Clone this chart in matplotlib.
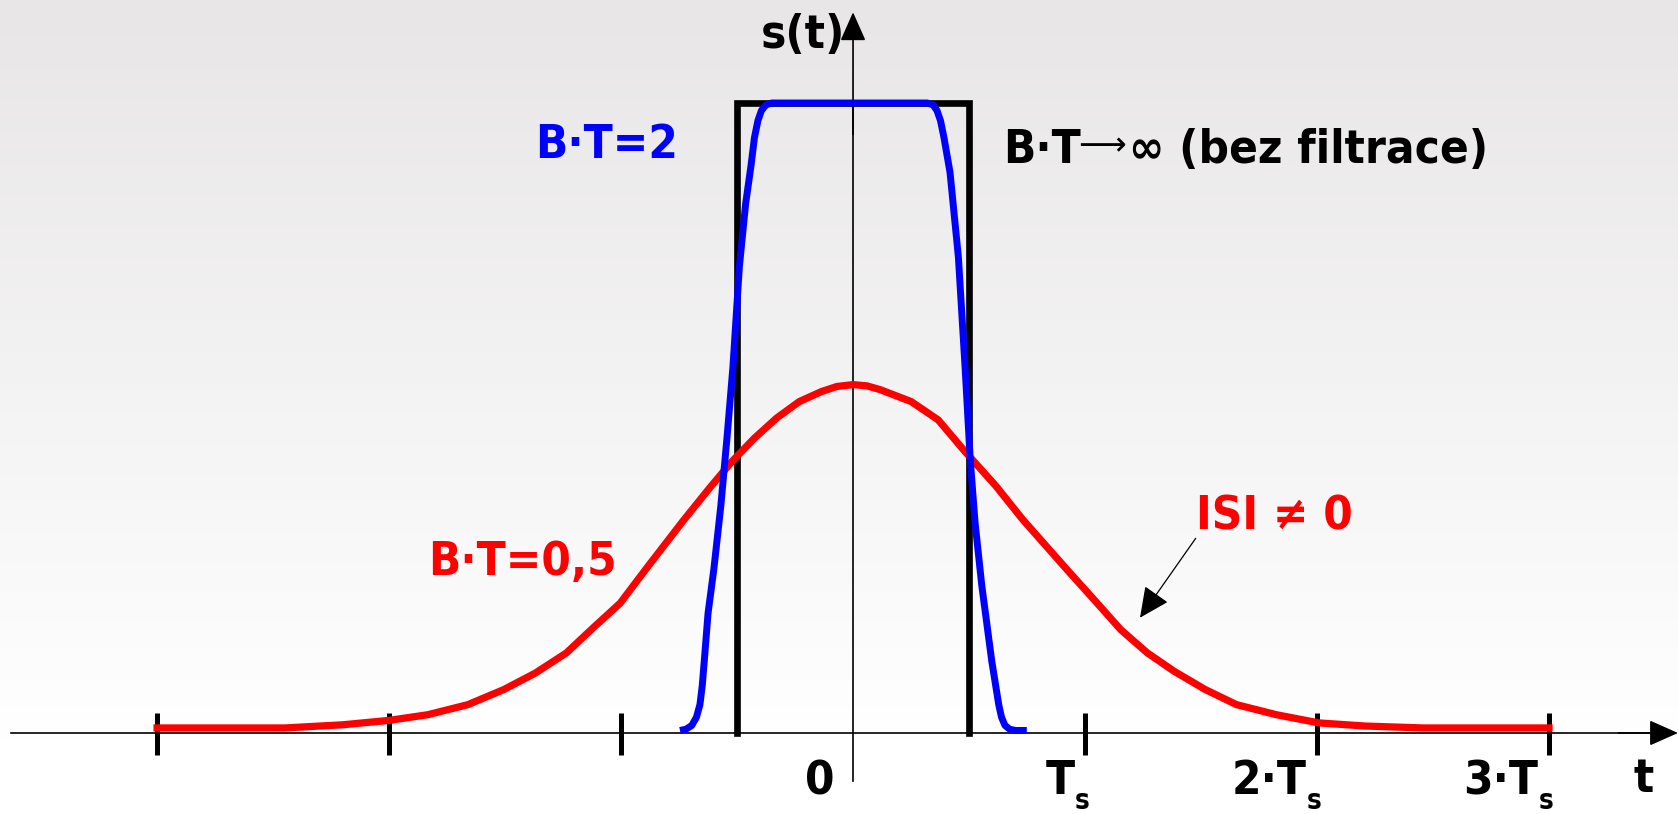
import numpy as np
import matplotlib
matplotlib.use('Agg')
import matplotlib.pyplot as plt

# Data (t in units of T_s, amplitude relative to the rectangle)
rect_t = [-0.5, -0.5, 0.5, 0.5]
rect_s = [0.0, 1.0, 1.0, 0.0]

blue_t = [-0.746, -0.72, -0.695, -0.675, -0.66, -0.65, -0.64, -0.625, -0.60, -0.57, -0.543,
          -0.518, -0.49, -0.463, -0.44, -0.425, -0.41, -0.395, -0.375, -0.35, -0.32,
          0.29, 0.32, 0.345, 0.362, 0.377, 0.392, 0.418, 0.454, 0.483, 0.505, 0.526, 0.555,
          0.598, 0.615, 0.628, 0.64, 0.655, 0.675, 0.70, 0.749]
blue_s = [0.004, 0.006, 0.012, 0.025, 0.045, 0.075, 0.12, 0.19, 0.26, 0.36, 0.47,
          0.58, 0.74, 0.84, 0.90, 0.945, 0.972, 0.988, 0.997, 1.0, 1.0,
          1.0, 1.0, 0.997, 0.988, 0.972, 0.945, 0.89, 0.756, 0.58, 0.435, 0.334, 0.234,
          0.114, 0.075, 0.045, 0.025, 0.012, 0.006, 0.004, 0.004]

red_t = [-3.0, -2.45, -2.2, -2.0, -1.833, -1.66, -1.505, -1.37, -1.236, -1.12, -1.004, -0.889,
         -0.734, -0.618, -0.522, -0.425, -0.329, -0.232, -0.136, -0.07, 0.0, 0.06, 0.117,
         0.251, 0.367, 0.482, 0.616, 0.731, 0.923, 1.038, 1.154, 1.269, 1.384, 1.518, 1.653,
         1.825, 2.008, 2.209, 2.459, 3.0]
red_s = [0.008, 0.008, 0.013, 0.020, 0.029, 0.045, 0.069, 0.095, 0.127, 0.167, 0.206, 0.262,
         0.336, 0.389, 0.431, 0.468, 0.500, 0.526, 0.542, 0.550, 0.553, 0.551, 0.545,
         0.526, 0.497, 0.447, 0.392, 0.339, 0.259, 0.212, 0.164, 0.127, 0.098, 0.069, 0.045,
         0.029, 0.016, 0.011, 0.008, 0.008]

tick_pos = [-3, -2, -1, 1, 2, 3]
label_pos = [1, 2, 3]
label_txt = ['T', '2·T', '3·T']

# Plot
fig = plt.figure(figsize=(16.78, 8.14), dpi=100)
ax = fig.add_axes([0, 0, 1, 1])
x0, x1 = -3.677, 3.556
y0, y1 = -0.1286, 1.1635
ax.set_xlim(x0, x1)
ax.set_ylim(y0, y1)
ax.axis('off')

# background gradient
g = np.linspace(0, 1, 256)[:, None]
top = np.array([232, 230, 230]) / 255.0
bot = np.array([255, 255, 255]) / 255.0
img = top + (bot - top) * np.clip(g * 1.1, 0, 1)[:, :, None] * np.ones((1, 2, 1))
ax.imshow(img, extent=[x0, x1, y0, y1], aspect='auto', origin='upper', zorder=0)

font = dict(family='DejaVu Sans', weight='bold', stretch='condensed')
fs = 34

# axes with arrows
ax.plot([-3.63, 3.45], [0, 0], color='k', lw=1.2, zorder=2)
ax.annotate('', xy=(x1, 0), xytext=(3.3, 0),
            arrowprops=dict(arrowstyle='-|>,head_length=0.9,head_width=0.4', color='k',
                            lw=1.2, mutation_scale=20, shrinkA=0, shrinkB=0), zorder=2)
ax.plot([0, 0], [-0.076, 1.0], color='k', lw=1.2, zorder=2)
ax.annotate('', xy=(0, 1.144), xytext=(0, 0.95),
            arrowprops=dict(arrowstyle='-|>,head_length=0.9,head_width=0.4', color='k',
                            lw=1.2, mutation_scale=20, shrinkA=0, shrinkB=0), zorder=2)

ax.vlines(tick_pos, -0.035, 0.032, color='k', lw=3.6, zorder=3)

ax.plot(rect_t, rect_s, color='k', lw=4.8, solid_joinstyle='miter', zorder=4)
ax.plot(red_t, red_s, color='#ff0000', lw=5.2, solid_joinstyle='round', zorder=5)
ax.plot(blue_t, blue_s, color='#0000ff', lw=5.0, solid_joinstyle='round',
        solid_capstyle='butt', zorder=6)

# labels
ax.text(-1.371, 0.912, 'B·T=2', color='#0000ff', fontsize=fs, ha='left', va='baseline', **font)
ax.text(0.646, 0.905, 'B·T', color='k', fontsize=fs, ha='left', va='baseline', **font)
ax.text(0.972, 0.917, '⟶', color='k', fontsize=24, ha='left', va='baseline',
        family='DejaVu Sans')
ax.text(1.19, 0.905, '∞ (bez filtrace)', color='k', fontsize=fs, ha='left', va='baseline', **font)
ax.text(-1.832, 0.25, 'B·T=0,5', color='#ff0000', fontsize=fs, ha='left', va='baseline', **font)
ax.text(1.477, 0.323, 'ISI ≠ 0', color='#ff0000', fontsize=fs, ha='left', va='baseline', **font)
ax.annotate('', xy=(1.237, 0.183), xytext=(1.477, 0.309),
            arrowprops=dict(arrowstyle='-|>,head_length=0.95,head_width=0.45', color='k',
                            lw=0.9, mutation_scale=20, shrinkA=0, shrinkB=0), zorder=7)

ax.text(-0.032, 1.088, 's(t)', color='k', fontsize=fs, ha='right', va='baseline', **font)
ax.text(3.406, -0.093, 't', color='k', fontsize=fs, ha='center', va='baseline', **font)
ax.text(-0.143, -0.097, '0', color='k', fontsize=fs, ha='center', va='baseline', **font)
for p, s in zip(label_pos, label_txt):
    ax.text(p - 0.045, -0.097, s, color='k', fontsize=fs, ha='right', va='baseline', **font)
    ax.text(p - 0.045, -0.121, 's', color='k', fontsize=20, ha='left', va='baseline', **font)

fig.savefig('out.png', dpi=100)
